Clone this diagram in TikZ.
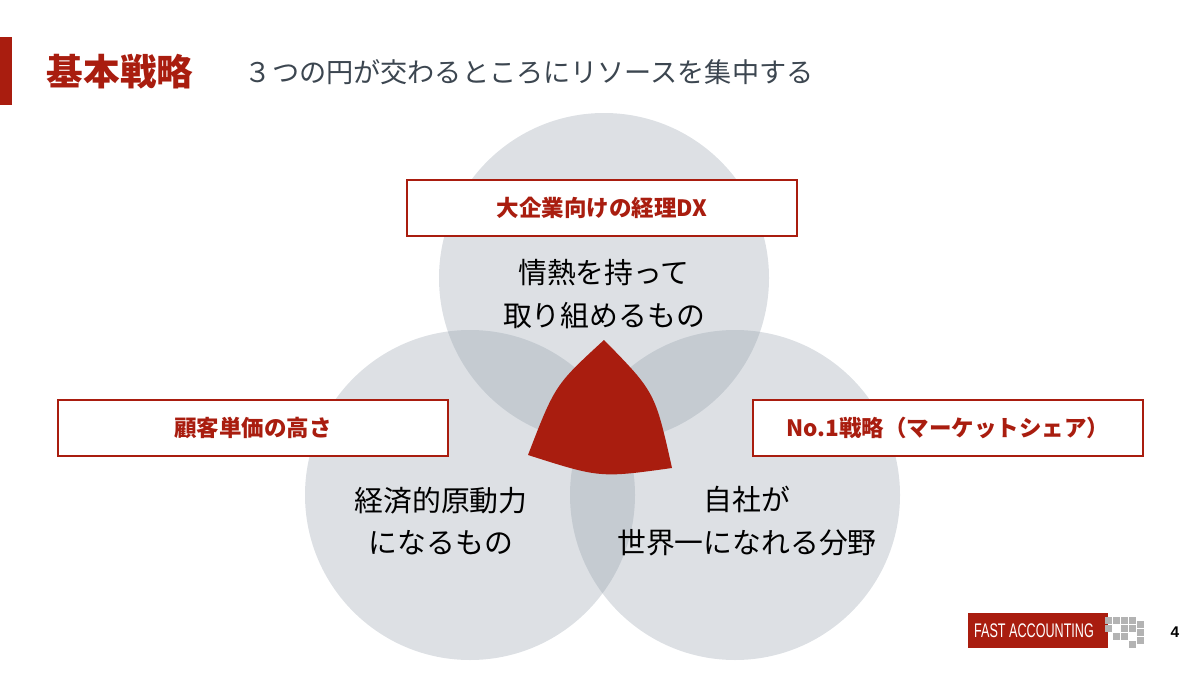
\documentclass[tikz,border=0pt]{standalone}
\usepackage{fontspec}
\setmainfont{Noto Sans CJK JP}
\newfontfamily\logofont{Liberation Sans}
\usetikzlibrary{positioning}
\definecolor{fared}{HTML}{A91D0F}
\definecolor{circgray}{HTML}{8E99A6}
\definecolor{subgray}{HTML}{3C4650}
\definecolor{pixgray}{HTML}{B3B3B3}

\begin{document}
\begin{tikzpicture}[
    x=0.025cm, y=-0.025cm,
    circ/.style={circle, fill=circgray, fill opacity=0.3, minimum size=330*0.025cm, inner sep=0pt},
    tagbox/.style={rectangle, draw=fared, fill=white, line width=0.8pt, minimum width=390*0.025cm, minimum height=56*0.025cm, text=fared, font=\fontsize{16}{18}\selectfont\bfseries},
    body/.style={align=center, font=\fontsize{20.5}{30}\selectfont, text=black}
]
    \useasboundingbox (0,0) rectangle (1200,675);

    % Title
    \fill[fared] (0,37) rectangle (12,105);
    \node[anchor=west, text=fared, font=\fontsize{26}{30}\selectfont\bfseries] (title) at (42,72) {基本戦略};
    \node[anchor=west, text=subgray, font=\fontsize{19.3}{22}\selectfont] (subtitle) at (240,72) {３つの円が交わるところにリソースを集中する};

    % Circles
    \node[circ] (passion) at (604,278) {};
    \node[circ] (economy) at (470,495) {};
    \node[circ] (best) at (735,495) {};

    % Center
    \fill[fared] (604,340) .. controls (555,385) .. (528,455)
                 .. controls (600,478) .. (672,468)
                 .. controls (655,392) .. (604,340);

    % Labels
    \node[tagbox] (dx) at (602,208) {大企業向けの経理DX};
    \node[tagbox] (price) at (253,428) {顧客単価の高さ};
    \node[tagbox] (share) at (948,428) {No.1戦略（マーケットシェア）};

    \node[body] (ptext) at (604,294) {情熱を持って\\取り組めるもの};
    \node[body] (etext) at (441,521) {経済的原動力\\になるもの};
    \node[body] (btext) at (747,521) {自社が\\世界一になれる分野};

    % Logo
    \fill[fared] (968,613) rectangle (1108,648);
    \node[text=white, font=\logofont\fontsize{14}{15}\selectfont, xscale=0.64] (logo) at (1034,631) {FAST ACCOUNTING};
    \foreach \px/\py in {1105/617,1113/617,1121/617,1129/617,1137/621,1105/625,1121/625,1129/625,1137/629,1113/633,1121/633,1137/637,1129/641}
        \fill[pixgray] (\px,\py) rectangle ++(7,7);
    \node[font=\logofont\fontsize{11}{12}\selectfont\bfseries] (page) at (1175,632) {4};
\end{tikzpicture}
\end{document}
